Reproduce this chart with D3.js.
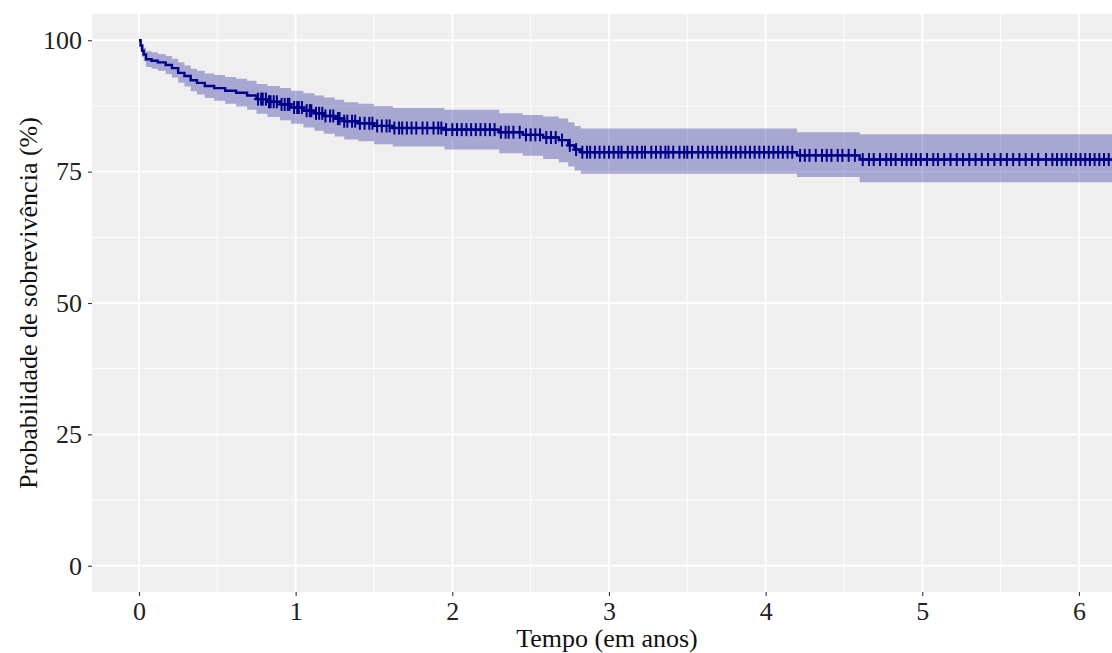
<!DOCTYPE html>
<html>
<head>
<meta charset="utf-8">
<script src="https://cdn.jsdelivr.net/npm/d3@7"></script>
<style>
  body { margin: 0; background: #fff; }
  svg { display: block; }
</style>
</head>
<body>
<div id="km_chart"></div>
<script>
// Kaplan-Meier estimate (steps), values in %
var stepTimes = [0, 0.01, 0.02, 0.03, 0.045, 0.08, 0.12, 0.17, 0.21, 0.25, 0.29, 0.33, 0.37, 0.42, 0.48,
    0.55, 0.62, 0.69, 0.75, 0.82, 0.90, 0.97, 1.05, 1.12, 1.18, 1.25, 1.31, 1.40, 1.50, 1.62, 1.95,
    2.30, 2.45, 2.58, 2.68, 2.74, 2.78, 2.82, 4.20, 4.60];
var survival = [100, 99.0, 98.0, 97.3, 96.4, 96.1, 95.8, 95.3, 94.7, 93.8, 93.2, 92.4, 91.9, 91.3, 90.9,
    90.4, 90.0, 89.5, 88.8, 88.3, 87.8, 87.2, 86.6, 86.1, 85.6, 85.1, 84.6, 84.2, 83.7, 83.3, 83.0,
    82.5, 82.0, 81.5, 81.0, 80.0, 79.2, 78.7, 78.1, 77.3];
var lowerCI = [100, 98.0, 96.8, 96.0, 94.9, 94.6, 94.2, 93.6, 92.9, 91.9, 91.2, 90.3, 89.7, 89.0, 88.5,
    87.9, 87.4, 86.8, 86.0, 85.4, 84.8, 84.1, 83.4, 82.8, 82.2, 81.7, 81.1, 80.8, 80.2, 79.8, 79.2,
    78.5, 78.0, 77.4, 76.8, 76.0, 75.2, 74.6, 74.0, 73.0];
var upperCI = [100, 100, 99.2, 98.6, 97.9, 97.7, 97.4, 97.0, 96.5, 95.8, 95.2, 94.6, 94.2, 93.7, 93.4,
    93.0, 92.7, 92.3, 91.7, 91.3, 90.9, 90.4, 89.9, 89.5, 89.1, 88.7, 88.2, 87.9, 87.5, 87.1, 86.8,
    86.1, 85.8, 85.5, 85.1, 84.4, 83.7, 83.2, 82.5, 82.1];
var lastTime = 6.5;

// censored observations (years)
var censorTimes = [0.76, 0.78, 0.79, 0.81, 0.83, 0.84, 0.86, 0.88, 0.91, 0.93, 0.95, 0.96, 0.99, 1.01,
    1.02, 1.04, 1.07, 1.09, 1.10, 1.13, 1.15, 1.17, 1.19, 1.22, 1.24, 1.27, 1.28, 1.31, 1.33, 1.36,
    1.38, 1.41, 1.44, 1.47, 1.49, 1.52, 1.55, 1.58, 1.60, 1.63, 1.66, 1.68, 1.71, 1.74, 1.77, 1.81,
    1.84, 1.88, 1.91, 1.93, 1.96, 2.00, 2.03, 2.06, 2.09, 2.12, 2.15, 2.18, 2.21, 2.24, 2.27, 2.31,
    2.34, 2.36, 2.39, 2.43, 2.47, 2.50, 2.53, 2.56, 2.60, 2.63, 2.66, 2.70, 2.75, 2.79, 2.83, 2.86,
    2.88, 2.91, 2.94, 2.97, 3.00, 3.03, 3.06, 3.08, 3.12, 3.15, 3.18, 3.21, 3.23, 3.27, 3.30, 3.33,
    3.36, 3.38, 3.41, 3.45, 3.48, 3.50, 3.53, 3.57, 3.60, 3.63, 3.66, 3.69, 3.72, 3.75, 3.78, 3.81,
    3.84, 3.87, 3.90, 3.93, 3.96, 3.99, 4.02, 4.05, 4.08, 4.11, 4.14, 4.17, 4.22, 4.25, 4.28, 4.32,
    4.36, 4.39, 4.42, 4.46, 4.49, 4.53, 4.57, 4.62, 4.66, 4.69, 4.73, 4.77, 4.80, 4.83, 4.87, 4.90,
    4.93, 4.96, 4.99, 5.03, 5.07, 5.10, 5.14, 5.18, 5.22, 5.26, 5.30, 5.34, 5.38, 5.42, 5.46, 5.50,
    5.54, 5.58, 5.62, 5.66, 5.70, 5.74, 5.79, 5.83, 5.86, 5.89, 5.92, 5.95, 5.98, 6.01, 6.04, 6.07,
    6.10, 6.13, 6.16, 6.19];

var xTicks = [0, 1, 2, 3, 4, 5, 6];
var xMinor = [0.5, 1.5, 2.5, 3.5, 4.5, 5.5];
var yTicks = [0, 25, 50, 75, 100];
var yMinor = [12.5, 37.5, 62.5, 87.5];

var xTitle = "Tempo (em anos)";
var yTitle = "Probabilidade de sobrevivência (%)";

var width = 1112, height = 653;
var panel = { left: 92, right: 1112, top: 14, bottom: 592 };
var lineColor = "#00008B";
var font = "'Liberation Serif', 'Times New Roman', serif";

var x = d3.scaleLinear().domain([-0.3, 6.211]).range([panel.left, panel.right]);
var y = d3.scaleLinear().domain([-5, 105]).range([panel.bottom, panel.top]);

var svg = d3.select("#km_chart")
    .append("svg")
    .attr("width", width)
    .attr("height", height);

svg.append("defs").append("clipPath")
    .attr("id", "panel_clip")
    .append("rect")
    .attr("x", panel.left).attr("y", panel.top)
    .attr("width", panel.right - panel.left)
    .attr("height", panel.bottom - panel.top);

// panel background
svg.append("rect")
    .attr("x", panel.left).attr("y", panel.top)
    .attr("width", panel.right - panel.left)
    .attr("height", panel.bottom - panel.top)
    .attr("fill", "#EFEFEF");

var grid = svg.append("g").attr("clip-path", "url(#panel_clip)");

// minor grid
grid.selectAll(".xminor").data(xMinor).enter().append("line")
    .attr("x1", function (d) { return x(d); }).attr("x2", function (d) { return x(d); })
    .attr("y1", panel.top).attr("y2", panel.bottom)
    .attr("stroke", "#fff").attr("stroke-width", 0.9);
grid.selectAll(".yminor").data(yMinor).enter().append("line")
    .attr("y1", function (d) { return y(d); }).attr("y2", function (d) { return y(d); })
    .attr("x1", panel.left).attr("x2", panel.right)
    .attr("stroke", "#fff").attr("stroke-width", 0.9);

// major grid
grid.selectAll(".xmajor").data(xTicks).enter().append("line")
    .attr("x1", function (d) { return x(d); }).attr("x2", function (d) { return x(d); })
    .attr("y1", panel.top).attr("y2", panel.bottom)
    .attr("stroke", "#fff").attr("stroke-width", 1.8);
grid.selectAll(".ymajor").data(yTicks).enter().append("line")
    .attr("y1", function (d) { return y(d); }).attr("y2", function (d) { return y(d); })
    .attr("x1", panel.left).attr("x2", panel.right)
    .attr("stroke", "#fff").attr("stroke-width", 1.8);

// build step data
var steps = stepTimes.map(function (t, i) {
    return { t: t, s: survival[i], lo: lowerCI[i], hi: upperCI[i] };
});
steps.push({ t: lastTime, s: survival[survival.length - 1],
    lo: lowerCI[lowerCI.length - 1], hi: upperCI[upperCI.length - 1] });

var plot = svg.append("g").attr("clip-path", "url(#panel_clip)");

// confidence band
var band = d3.area()
    .curve(d3.curveStepAfter)
    .x(function (d) { return x(d.t); })
    .y0(function (d) { return y(d.lo); })
    .y1(function (d) { return y(d.hi); });

plot.append("path")
    .datum(steps)
    .attr("d", band)
    .attr("fill", lineColor)
    .attr("fill-opacity", 0.3);

// survival curve
var km = d3.line()
    .curve(d3.curveStepAfter)
    .x(function (d) { return x(d.t); })
    .y(function (d) { return y(d.s); });

plot.append("path")
    .datum(steps)
    .attr("d", km)
    .attr("fill", "none")
    .attr("stroke", lineColor)
    .attr("stroke-width", 2.4);

// survival value at time t
function survAt(t) {
    var i = d3.bisectRight(stepTimes, t) - 1;
    return survival[Math.max(0, i)];
}

// censor marks "+"
var marks = plot.selectAll(".censor")
    .data(censorTimes)
    .enter()
    .append("g")
    .attr("class", "censor")
    .attr("transform", function (d) {
        return "translate(" + x(d) + "," + y(survAt(d)) + ")";
    });

marks.append("line")
    .attr("x1", 0).attr("x2", 0).attr("y1", -6.5).attr("y2", 6.5)
    .attr("stroke", lineColor).attr("stroke-width", 2);
marks.append("line")
    .attr("x1", -4).attr("x2", 4).attr("y1", 0).attr("y2", 0)
    .attr("stroke", lineColor).attr("stroke-width", 2);

// axes
var xAxis = d3.axisBottom(x).tickValues(xTicks).tickSize(4).tickPadding(6)
    .tickFormat(d3.format("d"));
var yAxis = d3.axisLeft(y).tickValues(yTicks).tickSize(4).tickPadding(6)
    .tickFormat(d3.format("d"));

var gx = svg.append("g")
    .attr("transform", "translate(0," + panel.bottom + ")")
    .call(xAxis);
var gy = svg.append("g")
    .attr("transform", "translate(" + panel.left + ",0)")
    .call(yAxis);

[gx, gy].forEach(function (g) {
    g.select(".domain").remove();
    g.selectAll(".tick line").attr("stroke", "#333").attr("stroke-width", 1.1);
    g.selectAll(".tick text")
        .attr("fill", "#222")
        .style("font-family", font)
        .style("font-size", "26px");
});

// axis titles
svg.append("text")
    .attr("x", 607)
    .attr("y", 647)
    .attr("text-anchor", "middle")
    .style("font-family", font)
    .style("font-size", "26px")
    .attr("fill", "#111")
    .text(xTitle);

svg.append("text")
    .attr("transform", "translate(37," + ((panel.top + panel.bottom) / 2) + ") rotate(-90)")
    .attr("text-anchor", "middle")
    .style("font-family", font)
    .style("font-size", "26px")
    .attr("fill", "#111")
    .text(yTitle);
</script>
</body>
</html>
